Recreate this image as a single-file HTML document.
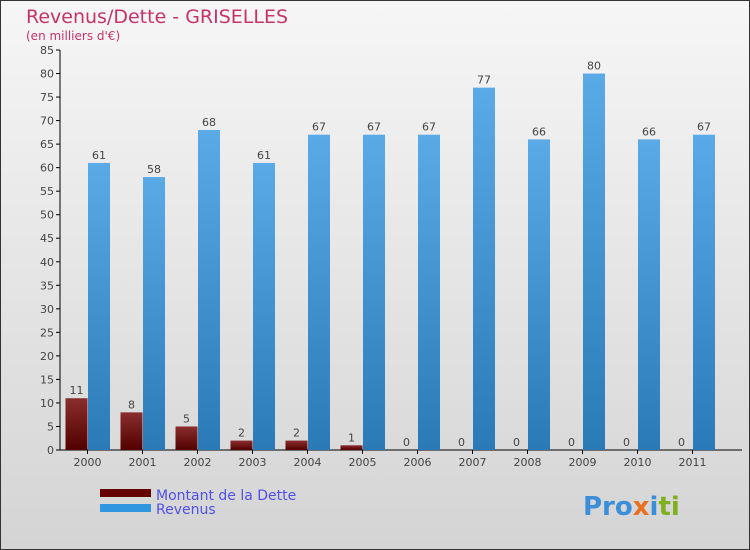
<!DOCTYPE html>
<html><head><meta charset="utf-8"><style>
body{margin:0}
#c{width:750px;height:550px;position:relative;font-family:"DejaVu Sans","Liberation Sans",sans-serif;overflow:hidden}
</style></head><body>
<div id="c">
<svg width="750" height="550" xmlns="http://www.w3.org/2000/svg" id="svg">
<defs>
<linearGradient id="bg" x1="0" y1="0" x2="0" y2="1"><stop offset="0" stop-color="#f6f6f6"/><stop offset="1" stop-color="#d4d4d4"/></linearGradient>
<linearGradient id="gd" x1="0" y1="0" x2="0" y2="1"><stop offset="0" stop-color="#8a2e2e"/><stop offset="1" stop-color="#520000"/></linearGradient>
<linearGradient id="gr" x1="0" y1="0" x2="0" y2="1"><stop offset="0" stop-color="#5aaae8"/><stop offset="1" stop-color="#2a7ab8"/></linearGradient>
</defs>
<rect x="0.5" y="0.5" width="749" height="549" fill="url(#bg)" stroke="#333"/>
<text x="26" y="23" font-size="19" fill="#c8326a">Revenus/Dette - GRISELLES</text>
<text x="26" y="40" font-size="12" fill="#c8326a">(en milliers d'€)</text>
<g id="axes"></g>
<g id="bars"></g>
<rect x="100" y="489" width="51" height="8" fill="#640000"/>
<text x="156" y="500" font-size="14" fill="#5050e8">Montant de la Dette</text>
<rect x="100" y="504" width="51" height="8" fill="#3096e0"/>
<text x="156" y="514" font-size="14" fill="#5050e8">Revenus</text>
<text x="583" y="515" font-size="26" font-weight="bold"><tspan fill="#3a8fd8">Pro</tspan><tspan fill="#e87020">x</tspan><tspan fill="#3a8fd8">i</tspan><tspan fill="#80b020">ti</tspan></text>
</svg>
</div>
<script>
const years=["2000","2001","2002","2003","2004","2005","2006","2007","2008","2009","2010","2011"];
const dette=[11,8,5,2,2,1,0,0,0,0,0,0];
const revenus=[61,58,68,61,67,67,67,77,66,80,66,67];
const yTicks=[0,5,10,15,20,25,30,35,40,45,50,55,60,65,70,75,80,85];
const NS="http://www.w3.org/2000/svg";
const y=v=>450-v*400/85;
const xc=i=>87.5+i*55;
function mk(t,a,p){const e=document.createElementNS(NS,t);for(const k in a)e.setAttribute(k,a[k]);p.appendChild(e);return e;}
const ax=document.getElementById('axes'),bg=document.getElementById('bars');
let l=mk('line',{x1:60,y1:y(85),x2:60,y2:450,stroke:'#000'},ax);


l=mk('line',{x1:60,y1:450,x2:742,y2:450,stroke:'#000'},ax);


yTicks.forEach(v=>{
 const t=mk('line',{x1:56,x2:60,y1:y(v),y2:y(v),stroke:'#000'},ax);
 
 
 const tx=mk('text',{x:54,y:y(v)+4,'font-size':11,fill:'#444','text-anchor':'end'},ax);
 tx.textContent=v;
 
 
});
years.forEach((yr,i)=>{
 const c=xc(i);
 const tk=mk('line',{x1:c,x2:c,y1:450,y2:454,stroke:'#000'},ax);
 
 
 const tx=mk('text',{x:c,y:466,'font-size':11,fill:'#444','text-anchor':'middle'},ax);
 tx.textContent=yr;
 
 
 const d=dette[i],r=revenus[i];
 const b1=mk('rect',{x:c-22,y:y(d),width:22,height:450-y(d),fill:'url(#gd)'},bg);
 
 
 const t1=mk('text',{x:c-11,y:y(d)-4,'font-size':11,fill:'#444','text-anchor':'middle'},bg);
 t1.textContent=d;
 
 
 const b2=mk('rect',{x:c+0.5,y:y(r),width:22,height:450-y(r),fill:'url(#gr)'},bg);
 
 
 const t2=mk('text',{x:c+11.5,y:y(r)-4,'font-size':11,fill:'#444','text-anchor':'middle'},bg);
 t2.textContent=r;
 
 
});
</script>
</body></html>
